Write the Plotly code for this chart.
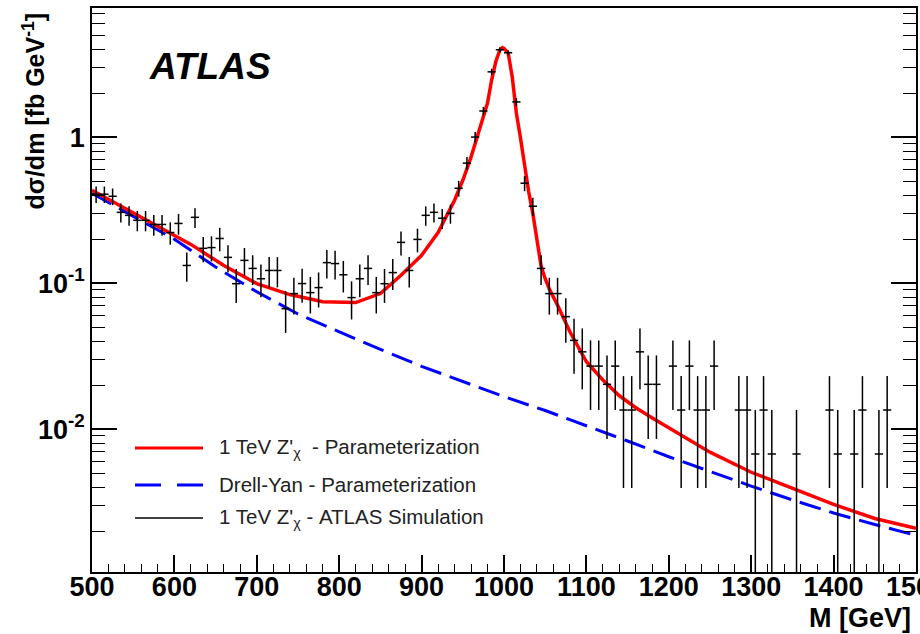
import plotly.graph_objects as go

# Drell-Yan parameterization (blue dashed)
dy_mass = [500, 550, 600, 650, 700, 750, 800, 850, 900, 950, 1000,
           1050, 1100, 1150, 1200, 1250, 1300, 1350, 1400, 1450, 1500]
dy_xsec = [0.412, 0.2864, 0.1995, 0.1288, 0.0871, 0.0614, 0.0462, 0.0351, 0.0269, 0.0211, 0.01667,
           0.0134, 0.01059, 0.00828, 0.00646, 0.0051, 0.00407, 0.00327, 0.00266, 0.00222, 0.00187]

# 1 TeV Z'chi parameterization (red)
zp_mass = [500, 540, 580, 620, 660, 700, 740, 780, 820, 850, 875, 900, 920, 940, 950, 960,
           970, 975, 980, 985, 990, 995, 998, 1000, 1005, 1010, 1015, 1020, 1025, 1030, 1035,
           1040, 1045, 1050, 1055, 1065, 1080, 1100, 1120, 1140, 1160, 1180, 1200, 1220, 1250,
           1300, 1350, 1400, 1450, 1500]
zp_xsec = [0.432, 0.325, 0.248, 0.184, 0.132, 0.0992, 0.0834, 0.0746, 0.0735, 0.0847, 0.113,
           0.155, 0.222, 0.369, 0.506, 0.729, 1.117, 1.40, 1.71, 2.46, 3.28, 3.95, 4.10, 4.05,
           3.78, 2.58, 1.46, 0.984, 0.612, 0.420, 0.300, 0.196, 0.131, 0.107, 0.091, 0.0705,
           0.0464, 0.0289, 0.0217, 0.0169, 0.0140, 0.0119, 0.01016, 0.00867, 0.00695, 0.00506,
           0.00393, 0.00305, 0.00244, 0.00209]

# ATLAS simulation, 10 GeV bins (empty bins are not drawn)
sim_mass = [505, 515, 525, 535, 545, 555, 565, 575, 585, 595, 605, 615, 625, 635, 645, 655,
            665, 675, 685, 695, 705, 715, 725, 735, 745, 755, 765, 775, 785, 795, 805, 815,
            825, 835, 845, 855, 865, 875, 885, 895, 905, 915, 925, 935, 945, 955, 965, 975,
            985, 995, 1005, 1015, 1025, 1035, 1045, 1055, 1065, 1075, 1085, 1095, 1105, 1115,
            1125, 1135, 1145, 1155, 1165, 1175, 1185, 1205, 1215, 1225, 1235, 1245, 1255,
            1285, 1295, 1305, 1315, 1325, 1355, 1395, 1405, 1425, 1435, 1455, 1465]
sim_xsec = [0.406, 0.406, 0.393, 0.305, 0.291, 0.269, 0.269, 0.252, 0.252, 0.222, 0.256, 0.132,
            0.282, 0.173, 0.175, 0.202, 0.150, 0.099, 0.143, 0.126, 0.107, 0.122, 0.122, 0.0668,
            0.0847, 0.0992, 0.086, 0.0931, 0.138, 0.136, 0.114, 0.0795, 0.107, 0.126, 0.086,
            0.099, 0.118, 0.190, 0.122, 0.199, 0.291, 0.305, 0.278, 0.300, 0.446, 0.663, 1.000,
            1.509, 2.797, 3.963, 3.779, 1.740, 0.483, 0.336, 0.126, 0.0847, 0.0847, 0.0589,
            0.0405, 0.0338, 0.027, 0.027, 0.02025, 0.027, 0.0135, 0.0135, 0.0338, 0.02025,
            0.02025, 0.027, 0.0135, 0.027, 0.0135, 0.0135, 0.027, 0.0135, 0.0135, 0.00675,
            0.0135, 0.00675, 0.00675, 0.0135, 0.00675, 0.00675, 0.0135, 0.00675, 0.0135]
sim_err = [0.0523, 0.0523, 0.0515, 0.0453, 0.0443, 0.0427, 0.0427, 0.0411, 0.0411, 0.0388, 0.0416,
           0.0298, 0.0437, 0.0341, 0.0344, 0.037, 0.0317, 0.0259, 0.0309, 0.0291, 0.0269, 0.0286,
           0.0286, 0.0212, 0.0239, 0.0259, 0.0241, 0.0251, 0.0306, 0.0302, 0.0278, 0.0232,
           0.0269, 0.0291, 0.0241, 0.0259, 0.0282, 0.0357, 0.0286, 0.0367, 0.0443, 0.0453,
           0.0432, 0.045, 0.0548, 0.0669, 0.0822, 0.1009, 0.1374, 0.1635, 0.16, 0.1084, 0.0571,
           0.0476, 0.0291, 0.0239, 0.0239, 0.0199, 0.01653, 0.01509, 0.0135, 0.0135, 0.01169,
           0.0135, 0.00955, 0.00955, 0.01509, 0.01169, 0.01169, 0.0135, 0.00955, 0.0135,
           0.00955, 0.00955, 0.0135, 0.00955, 0.00955, 0.00675, 0.00955, 0.00675, 0.00675,
           0.00955, 0.00675, 0.00675, 0.00955, 0.00675, 0.00955]
bin_half = [5] * len(sim_mass)

x_ticks = list(range(500, 1501, 100))
y_ticks = [0.01, 0.1, 1]
y_ticktext = ["10<sup>-2</sup>", "10<sup>-1</sup>", "1"]
y_minor = [m * 10 ** e for e in (-3, -2, -1) for m in range(2, 10)] + [2, 3, 4, 5, 6, 7]

legend_rows = [
    ("1 TeV Z'<sub>χ</sub>\u00a0 - Parameterization", "red", "solid", 3),
    ("Drell-Yan - Parameterization", "blue", "26px,16px", 3),
    ("1 TeV Z'<sub>χ</sub> - ATLAS Simulation", "black", "solid", 1.5),
]
legend_y = [0.2199, 0.1543, 0.0957]

fig = go.Figure()

fig.add_trace(go.Scatter(x=dy_mass, y=dy_xsec, mode="lines",
                         line=dict(color="blue", width=3, dash="22px,9px"),
                         showlegend=False))
fig.add_trace(go.Scatter(x=zp_mass, y=zp_xsec, mode="lines",
                         line=dict(color="red", width=3.5),
                         showlegend=False))
fig.add_trace(go.Scatter(x=sim_mass, y=sim_xsec, mode="markers",
                         marker=dict(size=0.1, color="black"),
                         error_y=dict(type="data", array=sim_err, color="black",
                                      thickness=1.5, width=0),
                         error_x=dict(type="data", array=bin_half, color="black",
                                      thickness=1.5, width=0),
                         showlegend=False))

shapes = []
annotations = []
for (label, color, dash, lw), ly in zip(legend_rows, legend_y):
    shapes.append(dict(type="line", xref="paper", yref="paper",
                       x0=0.0522, x1=0.1347, y0=ly, y1=ly,
                       line=dict(color=color, width=lw, dash=dash)))
    annotations.append(dict(text=label, xref="paper", yref="paper",
                            x=0.1517, y=ly, xanchor="left", yanchor="middle",
                            showarrow=False,
                            font=dict(family="Liberation Sans", size=20.5, color="#222")))

annotations.append(dict(text="<b><i>ATLAS</i></b>", xref="paper", yref="paper",
                        x=0.1432, y=0.8954, xanchor="center", yanchor="middle",
                        showarrow=False,
                        font=dict(family="Liberation Sans", size=37, color="black")))
annotations.append(dict(text="<b>dσ/dm [fb GeV<sup>-1</sup>]</b>", xref="paper", yref="paper",
                        x=-0.0704, y=0.9965, xanchor="center", yanchor="top",
                        textangle=-90, showarrow=False,
                        font=dict(family="Liberation Sans", size=25, color="black")))
annotations.append(dict(text="<b>M [GeV]</b>", xref="paper", yref="paper",
                        x=0.9964, y=-0.0816, xanchor="right", yanchor="middle",
                        showarrow=False,
                        font=dict(family="Liberation Sans", size=27, color="black")))

fig.update_layout(
    width=920, height=634,
    margin=dict(l=92, r=4, t=8, b=62),
    paper_bgcolor="white", plot_bgcolor="white",
    font=dict(family="Liberation Sans", color="black"),
    shapes=shapes, annotations=annotations,
    showlegend=False,
)
fig.update_xaxes(range=[500, 1500], showgrid=False, zeroline=False,
                 showline=True, linecolor="black", linewidth=1.5, mirror=True,
                 tickmode="array", tickvals=x_ticks,
                 ticks="inside", ticklen=17, tickwidth=1.5, tickcolor="black",
                 tickfont=dict(size=27, weight="bold"),
                 ticklabelstandoff=-10, ticklabeloverflow="allow",
                 minor=dict(dtick=20, ticks="inside", ticklen=8, tickwidth=1.2,
                            tickcolor="black", showgrid=False),
                 automargin=False)
fig.update_yaxes(type="log", range=[-2.979, 0.884], showgrid=False, zeroline=False,
                 showline=True, linecolor="black", linewidth=1.5, mirror="ticks",
                 tickmode="array", tickvals=y_ticks, ticktext=y_ticktext,
                 ticks="inside", ticklen=25, tickwidth=1.5, tickcolor="black",
                 tickfont=dict(size=27, weight="bold"),
                 minor=dict(tickmode="array", tickvals=y_minor, ticks="inside",
                            ticklen=13, tickwidth=1.2, tickcolor="black", showgrid=False),
                 automargin=False)

fig.write_html("out.html", config={"displayModeBar": False},
               post_script="document.body.style.margin='0px';")
